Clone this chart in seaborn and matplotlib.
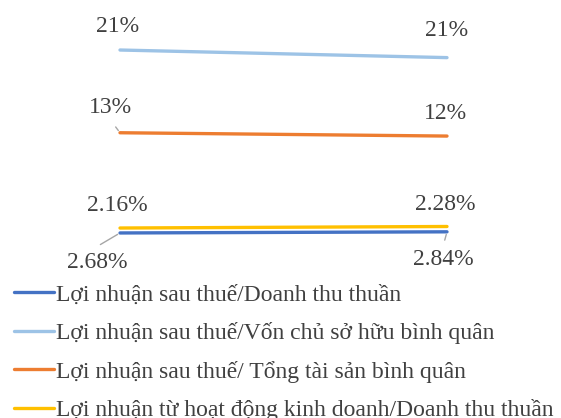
import matplotlib
matplotlib.use("Agg")
import matplotlib.pyplot as plt
import seaborn as sns
import pandas as pd

# hai kỳ so sánh (không hiển thị nhãn trục)
ky = [0, 1]

chi_tieu = [
    "Lợi nhuận sau thuế/Doanh thu thuần",
    "Lợi nhuận sau thuế/Vốn chủ sở hữu bình quân",
    "Lợi nhuận sau thuế/ Tổng tài sản bình quân",
    "Lợi nhuận từ hoạt động kinh doanh/Doanh thu thuần",
]
ln_dt = [2.16, 2.28]
roe = [21.4, 20.6]
roa = [12.7, 12.35]
lnkd_dt = [2.68, 2.84]

mau = ["#4472C4", "#9DC3E6", "#ED7D31", "#FFC000"]

# nhãn dữ liệu như trên hình
nhan = {
    chi_tieu[1]: (["21%", "21%"], [(-2, 24), (0, 27)]),
    chi_tieu[2]: (["13%", "12%"], [(-10, 25), (-2, 23)]),
    chi_tieu[3]: (["2.16%", "2.28%"], [(-3, 23), (-2, 22)]),
    chi_tieu[0]: (["2.68%", "2.84%"], [(-23, -30), (-4, -28)]),
}

df = pd.DataFrame({
    "Kỳ": ky * 4,
    "Giá trị": ln_dt + roe + roa + lnkd_dt,
    "Chỉ tiêu": [c for c in chi_tieu for _ in ky],
})

sns.set_style("white")
plt.rcParams["font.family"] = ["Liberation Serif", "DejaVu Serif"]

fig = plt.figure(figsize=(5.61, 4.18), dpi=100)
W, H = 561, 418
ax = fig.add_axes([120 / W, (H - 253.5) / H, 327 / W, 253.5 / H])

sns.lineplot(data=df, x="Kỳ", y="Giá trị", hue="Chỉ tiêu", hue_order=chi_tieu,
             palette=mau, linewidth=2.4, ax=ax, legend=True)
ax.set_xlim(0, 1)
ax.set_ylim(0, 26.66)
for ln in ax.lines:
    ln.set_clip_on(False)
    ln.set_solid_capstyle("round")

for ten, (txts, offs) in nhan.items():
    vals = df[df["Chỉ tiêu"] == ten]["Giá trị"].tolist()
    for x, v, t, o in zip(ky, vals, txts, offs):
        ax.annotate(t, (x, v), xytext=o, textcoords="offset pixels",
                    ha="center", va="center", fontsize=17, color="#404040",
                    annotation_clip=False)

# đường dẫn nhãn
ax.annotate("", (0, 12.7), xytext=(-6, 8), textcoords="offset pixels",
            arrowprops=dict(arrowstyle="-", color="#A6A6A6", lw=1), annotation_clip=False)
ax.annotate("", (0, 2.16), xytext=(-22, -13), textcoords="offset pixels",
            arrowprops=dict(arrowstyle="-", color="#A6A6A6", lw=1), annotation_clip=False)
ax.annotate("", (1, 2.28), xytext=(-3, -11), textcoords="offset pixels",
            arrowprops=dict(arrowstyle="-", color="#A6A6A6", lw=1), annotation_clip=False)

ax.set_axis_off()

handles, labels = ax.get_legend_handles_labels()
ax.get_legend().remove()
fig.legend(handles, labels, loc="upper left", bbox_to_anchor=(14 / W, 1 - 284 / H),
           frameon=False, fontsize=17, handlelength=1.7, handletextpad=0.1,
           labelspacing=0.7, borderpad=0, borderaxespad=0, labelcolor="#404040")

fig.savefig("out.png", dpi=100)
